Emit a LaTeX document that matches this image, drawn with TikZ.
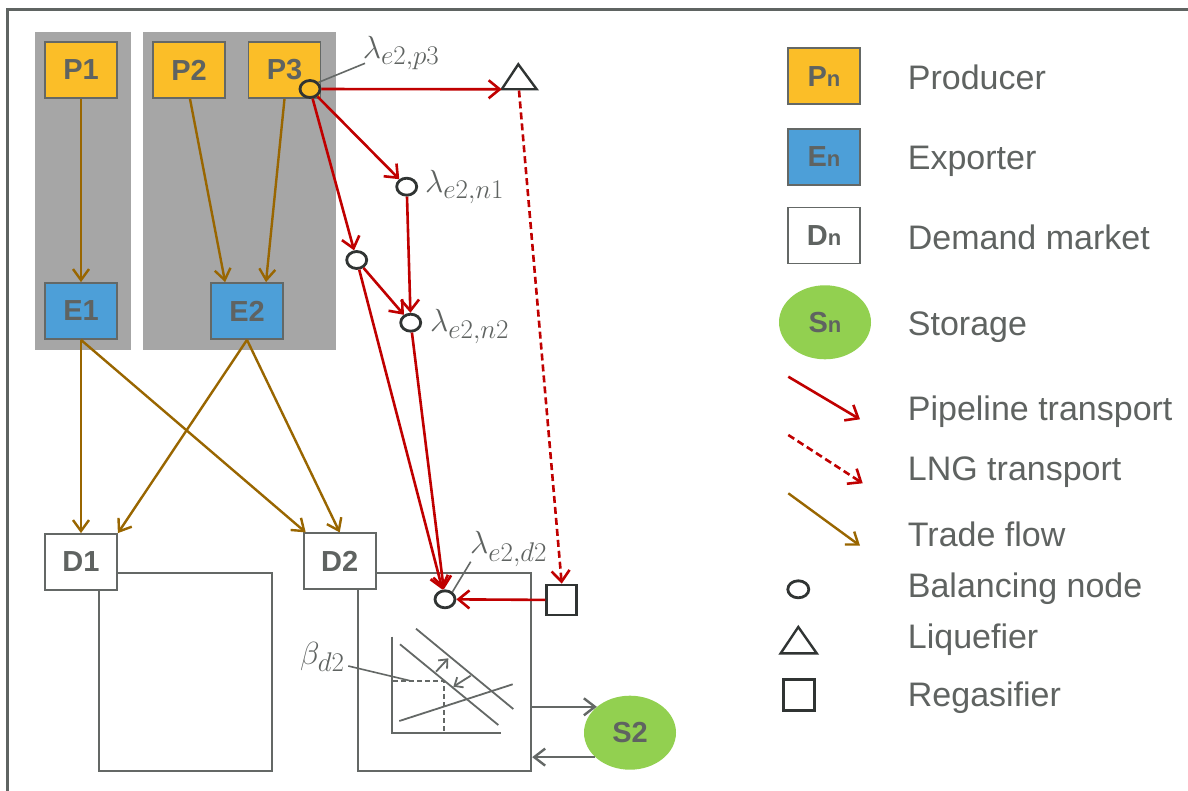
\RequirePackage{fix-cm}
\documentclass[tikz,border=0pt]{standalone}
\usepackage{fontspec}
\setmainfont{Liberation Sans}
\usetikzlibrary{arrows.meta,shapes.geometric,calc}
\DeclareMathSizes{32}{32}{27}{22}
\definecolor{framegray}{RGB}{95,100,98}
\definecolor{txtgray}{RGB}{95,99,97}
\definecolor{boxgray}{RGB}{100,104,102}
\definecolor{panelgray}{RGB}{166,166,166}
\definecolor{prodyellow}{RGB}{251,190,40}
\definecolor{expblue}{RGB}{77,159,216}
\definecolor{pipered}{RGB}{192,0,0}
\definecolor{tradebrown}{RGB}{153,102,0}
\definecolor{storgreen}{RGB}{146,208,80}
\definecolor{darkline}{RGB}{48,52,51}
\newcommand\boxfont{\fontsize{29}{32}\selectfont\bfseries}
\newcommand\legfont{\fontsize{34}{40}\selectfont}
\newcommand\mathlab{\fontsize{32}{36}\selectfont}
\begin{document}
\begin{tikzpicture}[x=1pt,y=-1pt,
  basebox/.style={rectangle, draw=boxgray, line width=1.8pt, minimum width=72pt, minimum height=56pt, inner sep=0pt, font=\boxfont, text=txtgray},
  prod/.style={basebox, fill=prodyellow},
  expo/.style={basebox, fill=expblue},
  dem/.style={basebox, fill=white},
  area/.style={rectangle, draw=boxgray, line width=2.4pt, inner sep=0pt},
  stor/.style={ellipse, fill=storgreen, minimum width=92pt, minimum height=74pt, inner sep=0pt, font=\boxfont, text=txtgray},
  bal/.style={ellipse, draw=darkline, line width=2.8pt, fill=white, minimum width=20pt, minimum height=17pt, inner sep=0pt},
  regas/.style={rectangle, draw=darkline, line width=2.6pt, fill=white, minimum size=30pt, inner sep=0pt},
  pipe/.style={draw=pipered, line width=2.6pt, -{Straight Barb[length=11pt,width=18pt]}},
  lng/.style={pipe, dash pattern=on 7pt off 4pt},
  trade/.style={draw=tradebrown, line width=2.4pt, -{Straight Barb[length=11pt,width=16pt]}},
  grayarr/.style={draw=boxgray, line width=2.4pt, -{Straight Barb[length=11pt,width=17pt]}},
  leader/.style={draw=boxgray, line width=1.6pt},
  chart/.style={draw=boxgray, line width=1.8pt},
  mlab/.style={anchor=base west, inner sep=0pt, text=txtgray, font=\mathlab},
  legtext/.style={anchor=base west, inner sep=0pt, text=txtgray, font=\legfont}
]
\useasboundingbox (0,0) rectangle (1188,791);
\fill[white] (0,0) rectangle (1188,791);
% frame
\draw[framegray, line width=3.2pt] (7.7,791) -- (7.7,9.5) -- (1188,9.5);
% panels
\fill[panelgray] (35,32) rectangle (130.5,350.5);
\fill[panelgray] (142.7,32) rectangle (336,350.5);
% producers / exporters
\node[prod] (P1) at (81,70) {P1};
\node[prod] (P2) at (189,70) {P2};
\node[prod] (P3) at (284.5,70) {P3};
\node[expo] (E1) at (81,311) {E1};
\node[expo] (E2) at (247,311) {E2};
% demand areas
\node[area, minimum width=173pt, minimum height=198pt] (A1) at (185.5,672) {};
\node[area, minimum width=173pt, minimum height=198pt] (A2) at (444.5,672) {};
\node[dem] (D1) at (81,562) {D1};
\node[dem] (D2) at (339.7,561.3) {D2};
% storage
\node[stor] (S2) at (630,732.7) {S2};
\draw[grayarr] (A2.east |- S2.142) -- (S2.142);
\draw[grayarr] (S2.215) -- (A2.east |- S2.215);
% trade flows
\draw[trade] (P1.south) -- (E1.north);
\draw[trade] ([xshift=1pt]P2.south) -- ([xshift=15pt]E2.north west);
\draw[trade] (P3.south) -- ([xshift=19pt]E2.north);
\draw[trade] (E1.south) -- (D1.north);
\draw[trade] (E1.south) -- ([xshift=-34pt]D2.north);
\draw[trade] (E2.south) -- (D1.north east);
\draw[trade] (E2.south) -- (D2.north);
% liquefier
\coordinate (liqT) at (518.3,64.3);
\coordinate (liqL) at (501.7,89.3);
\coordinate (liqR) at (536.7,89.3);
\coordinate (liqB) at (519,90.5);
\draw[darkline, line width=2.4pt, line join=miter] (liqT) -- (liqL) -- (liqR) -- cycle;
% balancing nodes
\node[bal, fill=prodyellow] (bp3) at (310,89) {};
\node[bal] (bn1) at (406.7,186.7) {};
\node[bal] (bx) at (356.7,260) {};
\node[bal] (bn2) at (410.7,322.7) {};
\node[bal] (bd2) at (445,599.3) {};
\node[regas] (reg) at (561.7,600) {};
% pipelines
\draw[pipe] (bp3) -- (liqL);
\draw[pipe] (bp3) -- (bn1);
\draw[pipe] (bp3) -- (bx);
\draw[pipe] (bn1) -- (bn2);
\draw[pipe] (bx) -- (bn2);
\draw[pipe] (bx) -- (bd2);
\draw[pipe] (bn2) -- (bd2);
\draw[pipe] (reg) -- (bd2);
\draw[lng] (liqB) -- (reg.north);
% labels
\node[mlab] (lp3) at (362.7,58.3) {$\lambda_{e2,p3}$};
\node[mlab] (ln1) at (425,192.3) {$\lambda_{e2,n1}$};
\node[mlab] (ln2) at (430,331.7) {$\lambda_{e2,n2}$};
\node[mlab] (ld2) at (470,553.3) {$\lambda_{e2,d2}$};
\node[mlab] (bd) at (300,664) {$\beta_{d2}$};
\coordinate (lp3tip) at (365,63.3);
\coordinate (ld2tip) at (470.7,561.7);
\coordinate (bdtip) at (348.3,666);
\draw[leader] (lp3tip) -- (bp3.38);
\draw[leader] (ld2tip) -- (bd2.45);
% chart in D2
\coordinate (eq) at (444.3,681);
\draw[leader] (bdtip) -- (410,680.7);
\draw[chart] (391.7,636.7) -- (391.7,733.3) -- (500.7,733.3);
\draw[chart] (400,644.3) -- (498.3,725);
\draw[chart] (416,628.7) -- (513.3,709);
\draw[chart] (399.3,721) -- (512.7,684.3);
\draw[chart, dash pattern=on 5pt off 3pt] (393.3,681) -- (eq) -- (444.3,732.7);
\draw[chart, -{Straight Barb[length=7pt,width=12pt]}] (436,671.7) -- (448.3,658.3);
\draw[chart, -{Straight Barb[length=7pt,width=12pt]}] (470.7,675.7) -- (453.3,686.7);
% legend
\node[prod] (LP) at (824,76.3) {P{\fontsize{22}{24}\selectfont n}};
\node[expo] (LE) at (824,156.7) {E{\fontsize{22}{24}\selectfont n}};
\node[dem] (LD) at (824,235.5) {D{\fontsize{22}{24}\selectfont n}};
\node[stor] (LS) at (825,322.3) {S{\fontsize{22}{24}\selectfont n}};
\coordinate (pl1) at (788.3,376.7);
\coordinate (pl2) at (860,419.3);
\coordinate (ln1a) at (788.3,435);
\coordinate (ln2a) at (862.7,483.3);
\coordinate (tr1) at (788.3,493.3);
\coordinate (tr2) at (860,545.7);
\draw[pipe] (pl1) -- (pl2);
\draw[lng] (ln1a) -- (ln2a);
\draw[trade] (tr1) -- (tr2);
\node[bal, minimum width=21pt, minimum height=17pt] (LB) at (798.3,589.3) {};
\coordinate (lqT) at (798.3,627);
\coordinate (lqL) at (780.7,653.3);
\coordinate (lqR) at (816.7,653.3);
\draw[darkline, line width=2.4pt, line join=miter] (lqT) -- (lqL) -- (lqR) -- cycle;
\node[regas, minimum size=31pt] (LR) at (799.2,695.2) {};
\node[legtext] at (907.7,90) {Producer};
\node[legtext] at (907.7,170) {Exporter};
\node[legtext] at (907.7,250) {Demand market};
\node[legtext] at (907.7,335) {Storage};
\node[legtext] at (907.7,420) {Pipeline transport};
\node[legtext] at (907.7,480) {LNG transport};
\node[legtext] at (907.7,546.7) {Trade flow};
\node[legtext] at (907.7,597) {Balancing node};
\node[legtext] at (907.7,648) {Liquefier};
\node[legtext] at (907.7,706.7) {Regasifier};
\end{tikzpicture}
\end{document}
